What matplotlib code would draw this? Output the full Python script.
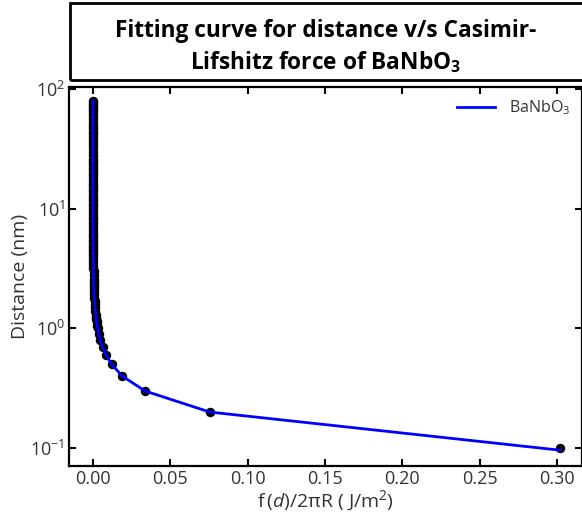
import matplotlib
matplotlib.use("Agg")
import matplotlib.pyplot as plt
from matplotlib.patches import Rectangle

plt.rcParams['font.family'] = ['Open Sans', 'DejaVu Sans']
plt.rcParams['mathtext.fontset'] = 'custom'
plt.rcParams['mathtext.rm'] = 'Open Sans'
plt.rcParams['mathtext.it'] = 'Open Sans:italic'
plt.rcParams['mathtext.bf'] = 'Open Sans:bold'

# Data: distance (nm) and force per unit area (J/m^2)
distance = [0.1, 0.2, 0.3, 0.4, 0.5, 0.6, 0.7, 0.8, 0.9,
            1.0, 1.05, 1.1, 1.15, 1.2, 1.25, 1.3, 1.4, 1.5, 1.6, 1.7, 1.8, 1.9,
            2.0, 2.1, 2.2, 2.3, 2.4, 2.5, 2.6, 2.8, 3.0, 3.2, 3.4, 3.6, 3.8,
            4.0, 4.2, 4.4, 4.6, 4.8, 5.0, 5.25, 5.5, 5.75, 6.0, 6.3, 6.6,
            7.0, 7.4, 7.8, 8.2, 8.6, 9.0, 9.5, 10.0, 10.5, 11.0, 11.5, 12.0,
            12.6, 13.2, 14.0, 14.7, 15.4, 16, 17, 18, 19, 20, 21, 22, 23, 24,
            25, 26, 28, 30, 32, 34, 36, 38, 40, 42, 44, 46, 48, 50, 53, 56,
            59, 62, 65, 68, 71, 74, 77, 80]
force = [0.302, 0.0755, 0.0336, 0.0189, 0.0121, 0.0084, 0.0062, 0.0047, 0.0037,
         0.00302, 0.00274, 0.00250, 0.00228, 0.00210, 0.00193, 0.00179, 0.00154, 0.00134, 0.00118, 0.00104, 0.00093, 0.00084,
         0.00076, 0.00068, 0.00062, 0.00057, 0.00052, 0.00048, 0.00045, 0.00039, 0.00034, 0.00029, 0.00026, 0.00023, 0.00021,
         0.00019, 0.00017, 0.00016, 0.00014, 0.00013, 0.00012, 0.00011, 0.00010, 0.00009, 0.00008, 0.00008, 0.00007,
         0.00006, 0.00006, 0.00005, 0.00004, 0.00004, 0.00004, 0.00003, 0.00003, 0.00003, 0.00002, 0.00002, 0.00002,
         0.00002, 0.00002, 0.00002, 0.00001, 0.00001, 0.00001, 0.00001, 0.00001, 0.00001, 0.00001, 0.00001, 0.00001, 0.0, 0.0,
         0.0, 0.0, 0.0, 0.0, 0.0, 0.0, 0.0, 0.0, 0.0, 0.0, 0.0, 0.0, 0.0, 0.0, 0.0, 0.0,
         0.0, 0.0, 0.0, 0.0, 0.0, 0.0, 0.0, 0.0]
fit_distance = [0.096] + distance[1:]
fit_force = force

series_label = 'BaNbO$_3$'
title_lines = ['Fitting curve for distance v/s Casimir-', 'Lifshitz force of BaNbO$_\\mathbf{3}$']
xticks = [0.00, 0.05, 0.10, 0.15, 0.20, 0.25, 0.30]
xtick_labels = ['0.00', '0.05', '0.10', '0.15', '0.20', '0.25', '0.30']

fig = plt.figure(figsize=(5.82, 5.17), dpi=100)
ax = fig.add_axes([0.1186, 0.0986, 0.881, 0.7331])

ax.plot(force, distance, 'o', color='black', markersize=5.8, zorder=2)
ax.plot(fit_force, fit_distance, '-', color='#0000ff', linewidth=2.0, zorder=3, label=series_label)

ax.set_yscale('log')
ax.set_ylim(10 ** -1.15, 10 ** 2.017)
ax.set_xlim(-0.0155, 0.316)
ax.set_xticks(xticks)
ax.set_xticklabels(xtick_labels)
ax.set_yticks([0.1, 1, 10, 100])
ax.minorticks_off()
ax.tick_params(direction='in', top=True, right=True, length=5, width=1.5,
               labelsize=13, labelcolor='#333333', pad=3)
for s in ax.spines.values():
    s.set_linewidth(1.6)

ax.set_xlabel('f$\\,$($d$)/2πR ( J/m$^2$)', fontsize=14, color='#333333', labelpad=0)
ax.set_ylabel('Distance (nm)', fontsize=14, color='#333333', labelpad=1)

leg = ax.legend(loc='upper right', frameon=False, fontsize=11.5, handlelength=2.4,
                handletextpad=0.9, borderaxespad=0.3)
for t in leg.get_texts():
    t.set_color('#333333')

# Title box
rect = Rectangle((0.121, 0.846), 0.885, 0.148, transform=fig.transFigure,
                 fill=False, edgecolor='black', linewidth=2)
fig.add_artist(rect)
fig.text(0.56, 0.940, title_lines[0], ha='center', va='center', fontsize=16.3,
         fontweight='bold')
fig.text(0.56, 0.880, title_lines[1], ha='center', va='center', fontsize=16.3,
         fontweight='bold')

fig.savefig('out.png', dpi=100)
